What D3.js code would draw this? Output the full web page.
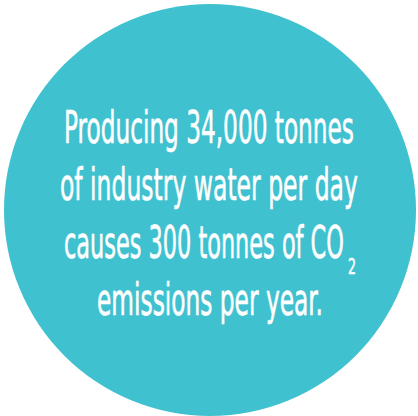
<!DOCTYPE html>
<html>
<head>
<meta charset="utf-8">
<script src="https://cdn.jsdelivr.net/npm/d3@7"></script>
<style>
  html, body { margin: 0; padding: 0; background: #fff; }
  svg { display: block; }
  .line { font-family: "Liberation Sans Narrow", "DejaVu Sans Condensed", sans-serif; fill: #fff; stroke: #fff; stroke-width: 0.6px; }
</style>
</head>
<body>
<svg id="chart" width="418" height="416"></svg>
<script>
// text of the badge, one entry per line
var lines = ["Producing 34,000 tonnes", "of industry water per day", "causes 300 tonnes of CO", "emissions per year."];
var subs = ["", "", "2", ""];

var svg = d3.select("#chart"),
    width = +svg.attr("width"),
    height = +svg.attr("height");

var cx = 210, cy = 210, r = 206;

svg.append("circle")
    .attr("cx", cx)
    .attr("cy", cy)
    .attr("r", r)
    .attr("fill", "#40c1cf");

// baselines, spaced evenly
var y = d3.scalePoint()
    .domain(d3.range(lines.length))
    .range([143, 315]);

// widths (main text only)
var widths = [290, 298, 280, 226];
var lefts = [64, 60, 64, 97];

var g = svg.append("g");

lines.forEach(function(t, i) {
  var txt = g.append("text")
      .attr("class", "line")
      .attr("font-size", 45)
      .text(t);
  var natural = txt.node().getComputedTextLength();
  txt.attr("transform", "translate(" + lefts[i] + "," + y(i) + ") scale(" + (widths[i] / natural) + ",1)");
  if (subs[i]) {
    var s = g.append("text")
      .attr("class", "line")
      .attr("font-size", 21)
      .text(subs[i]);
    var sn = s.node().getComputedTextLength();
    s.attr("transform", "translate(" + (lefts[i] + widths[i] + 4) + "," + (y(i) + 16) + ") scale(" + (8 / sn) + ",1)");
  }
});
</script>
</body>
</html>
